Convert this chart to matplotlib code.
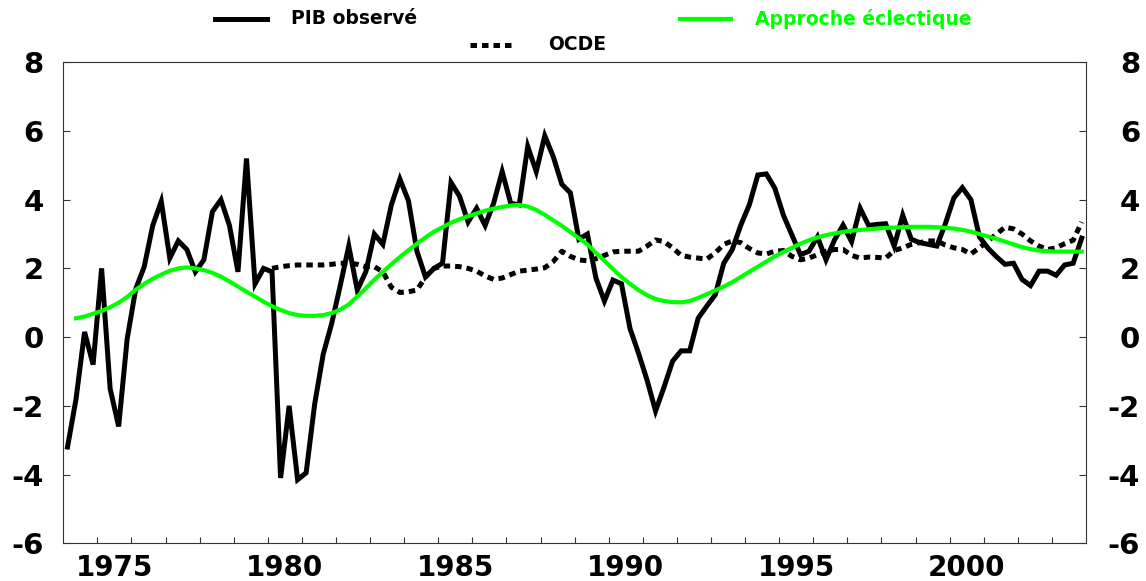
import numpy as np
import matplotlib
matplotlib.use("Agg")
import matplotlib.pyplot as plt
import matplotlib.transforms as mtransforms
from matplotlib.lines import Line2D

plt.rcParams['font.family'] = ['DejaVu Sans']
plt.rcParams['axes.unicode_minus'] = False

# —— données trimestrielles, 1974T1 .. 2003T4 ——
start_year = 1974
pib_observe = [
    -3.2, -1.8, 0.15, -0.8, 2.0, -1.5, -2.6, -0.05,
    1.4, 2.05, 3.25, 3.95, 2.3, 2.8, 2.55, 1.9,
    2.25, 3.65, 4.0, 3.25, 1.9, 5.2, 1.55, 2.0,
    1.9, -4.1, -2.0, -4.15, -3.95, -1.95, -0.5, 0.4,
    1.5, 2.65, 1.37, 1.9, 3.0, 2.7, 3.85, 4.6,
    3.97, 2.5, 1.75, 2.0, 2.15, 4.5, 4.1, 3.35,
    3.75, 3.25, 3.9, 4.82, 3.9, 3.85, 5.55, 4.82,
    5.86, 5.25, 4.45, 4.2, 2.85, 3.0, 1.72, 1.05,
    1.66, 1.55, 0.25, -0.47, -1.25, -2.15, -1.45, -0.7,
    -0.4, -0.4, 0.55, 0.9, 1.23, 2.15, 2.55, 3.26,
    3.85, 4.72, 4.75, 4.33, 3.55, 2.97, 2.4, 2.5,
    2.92, 2.25, 2.83, 3.26, 2.78, 3.75, 3.25, 3.28,
    3.3, 2.65, 3.55, 2.85, 2.75, 2.7, 2.65, 3.3,
    4.05, 4.35, 4.0, 2.92, 2.59, 2.34, 2.12, 2.15,
    1.68, 1.5, 1.92, 1.92, 1.8, 2.1, 2.15, 2.88,
]

# OCDE : à partir de 1980T1
ocde_start = 24
ocde = [
    2.0, 2.05, 2.08, 2.1, 2.1, 2.1, 2.1, 2.12,
    2.15, 2.15, 2.12, 2.05, 2.05, 1.9, 1.45, 1.3,
    1.32, 1.37, 1.75, 2.0, 2.07, 2.07, 2.05, 2.0,
    1.92, 1.78, 1.68, 1.72, 1.82, 1.92, 1.95, 1.98,
    2.02, 2.2, 2.5, 2.35, 2.25, 2.22, 2.28, 2.38,
    2.48, 2.5, 2.5, 2.5, 2.65, 2.83, 2.78, 2.6,
    2.38, 2.33, 2.3, 2.27, 2.45, 2.7, 2.8, 2.75,
    2.58, 2.45, 2.42, 2.5, 2.52, 2.35, 2.25, 2.3,
    2.4, 2.5, 2.55, 2.55, 2.38, 2.3, 2.33, 2.32,
    2.3, 2.52, 2.6, 2.7, 2.75, 2.8, 2.8, 2.68,
    2.6, 2.55, 2.42, 2.6, 2.8, 3.0, 3.2, 3.15,
    3.0, 2.8, 2.65, 2.55, 2.6, 2.72, 2.82, 3.35,
]

# approche éclectique : à partir de 1974T2
eclectique_start = 1
eclectique = [
    0.55, 0.6, 0.68, 0.76, 0.87, 1.0, 1.17,
    1.38, 1.55, 1.7, 1.82, 1.93, 2.0, 2.03, 2.0,
    1.95, 1.87, 1.76, 1.62, 1.47, 1.32, 1.18, 1.03,
    0.9, 0.79, 0.7, 0.64, 0.62, 0.62, 0.64, 0.7,
    0.8, 0.95, 1.18, 1.42, 1.67, 1.9, 2.12, 2.33,
    2.53, 2.72, 2.9, 3.07, 3.2, 3.33, 3.43, 3.52,
    3.6, 3.68, 3.74, 3.79, 3.83, 3.85, 3.8, 3.7,
    3.56, 3.4, 3.24, 3.06, 2.88, 2.7, 2.45, 2.22,
    1.98, 1.75, 1.55, 1.37, 1.22, 1.11, 1.05, 1.02,
    1.01, 1.05, 1.14, 1.25, 1.36, 1.47, 1.6, 1.75,
    1.9, 2.05, 2.2, 2.35, 2.48, 2.6, 2.72, 2.82,
    2.9, 2.97, 3.02, 3.06, 3.1, 3.12, 3.14, 3.16,
    3.18, 3.19, 3.2, 3.21, 3.21, 3.21, 3.2, 3.18,
    3.16, 3.12, 3.07, 3.0, 2.93, 2.86, 2.78, 2.7,
    2.62, 2.56, 2.52, 2.5, 2.49, 2.49, 2.49, 2.49,
]

year_labels = [1975, 1980, 1985, 1990, 1995, 2000]
y_ticks = [-6, -4, -2, 0, 2, 4, 6, 8]

GREEN = "#00ff00"
DOTS = (0, (1.3, 1.0))


def quarters(first, n):
    # milieu de chaque trimestre
    return start_year + (np.arange(first, first + n) + 0.5) / 4.0


fig = plt.figure(figsize=(11.46, 5.81), dpi=100)
ax = fig.add_axes([0.0552, 0.065, 0.8924, 0.8278])

ax.plot(quarters(0, len(pib_observe)), pib_observe, color="black", lw=3.6,
        solid_joinstyle="miter", zorder=3)
ax.plot(quarters(ocde_start, len(ocde)), ocde, color="black", lw=3.6,
        linestyle=DOTS, zorder=2)
ax.plot(quarters(eclectique_start, len(eclectique)), eclectique, color=GREEN,
        lw=3.0, zorder=4)

ax.set_xlim(1974, 2004)
ax.set_ylim(-6, 8)

# axe x : graduation annuelle, libellés centrés sur l'année
ax.set_xticks(np.arange(1975, 2004))
ax.set_xticklabels([])
ax.set_xticks([y + 0.5 for y in year_labels], minor=True)
ax.set_xticklabels([str(y) for y in year_labels], minor=True,
                   fontsize=20, fontweight="bold")
ax.tick_params(axis="x", which="major", direction="in", length=4.5, width=0.8,
               color="#333333", top=False)
ax.tick_params(axis="x", which="minor", length=0, pad=8)

# axe y : même échelle à gauche et à droite
ax.set_yticks(y_ticks)
ax.set_yticklabels([str(v) for v in y_ticks], fontsize=21, fontweight="bold")
ax.tick_params(axis="y", which="major", direction="in", length=5, width=0.8,
               color="#333333", left=True, right=True,
               labelleft=True, labelright=True, pad=14)

# libellés de droite alignés sur le bord droit de la figure
offset = mtransforms.ScaledTranslation(25 / 72.0, 0, fig.dpi_scale_trans)
for t in ax.yaxis.get_major_ticks():
    t.label2.set_horizontalalignment("right")
    t.label2.set_transform(t.label2.get_transform() + offset)

for s in ax.spines.values():
    s.set_color("#333333")
    s.set_linewidth(0.8)


# —— légende faite à la main au-dessus du graphique ——
def legend_item(x0, x1, y, tx, label, color, ls="-", lw=3.6, txt_color="black"):
    fig.add_artist(Line2D([x0 / 1146, x1 / 1146], [1 - y / 581, 1 - y / 581],
                          color=color, lw=lw, linestyle=ls,
                          transform=fig.transFigure))
    fig.text(tx / 1146, 1 - y / 581, label, color=txt_color, fontsize=13.5,
             fontweight="bold", va="center", ha="left")


legend_item(215, 267, 19, 291, "PIB observé", "black")
legend_item(680, 731, 19, 755, "Approche éclectique", GREEN, lw=3.0, txt_color=GREEN)
legend_item(470, 511, 45, 548, "OCDE", "black", ls=DOTS)

fig.savefig("out.png", dpi=100)
